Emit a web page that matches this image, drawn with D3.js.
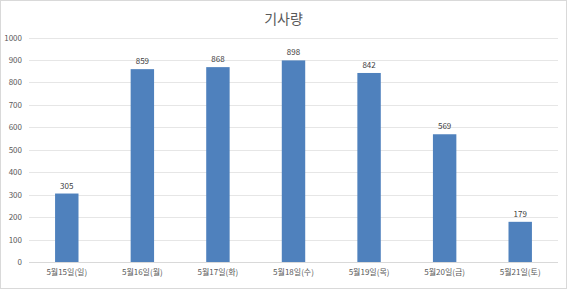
<!DOCTYPE html>
<html><head><meta charset="utf-8">
<script src="https://cdn.jsdelivr.net/npm/d3@7"></script>
<style>body{margin:0;background:#fff;}svg{display:block;font-family:"Noto Sans CJK KR","Malgun Gothic",sans-serif;}</style>
</head><body>
<script>
const categories = ["5월15일(일)","5월16일(월)","5월17일(화)","5월18일(수)","5월19일(목)","5월20일(금)","5월21일(토)"];
const values = [305, 859, 868, 898, 842, 569, 179];
const yTicks = [0,100,200,300,400,500,600,700,800,900,1000];
const title = "기사량";

const W = 567, H = 289;
const svg = d3.select("body").append("svg").attr("width", W).attr("height", H);
svg.append("rect").attr("x",0.5).attr("y",0.5).attr("width",W-1).attr("height",H-1)
  .attr("fill","#fff").attr("stroke","#d9d9d9");

const m = {left:29, right:9, top:37.5, bottom:27};
const x = d3.scaleBand().domain(categories).range([m.left, W-m.right]).paddingInner(0.69).paddingOuter(0.345);
const y = d3.scaleLinear().domain([0,1000]).range([H-m.bottom, m.top]);

svg.append("text").attr("x", W/2).attr("y", 24).attr("text-anchor","middle")
  .attr("font-size",14).attr("fill","#595959").text(title);

const g = svg.append("g");
g.selectAll("line.grid").data(yTicks).join("line")
  .attr("x1", m.left).attr("x2", W-m.right)
  .attr("y1", d=>Math.round(y(d))+0.5).attr("y2", d=>Math.round(y(d))+0.5)
  .attr("stroke", d=> d===0 ? "#d9d9d9" : "#e6e6e6").attr("stroke-width",1);

g.selectAll("text.ytick").data(yTicks).join("text")
  .attr("x", 22).attr("y", d=>y(d)+3).attr("text-anchor","end")
  .attr("font-size",8).attr("fill","#595959").text(d=>d);

g.selectAll("rect.bar").data(values).join("rect")
  .attr("x", (d,i)=>x(categories[i])).attr("width", x.bandwidth())
  .attr("y", d=>y(d)).attr("height", d=>y(0)-y(d)).attr("fill","#4F81BD");

g.selectAll("text.lbl").data(values).join("text")
  .attr("x", (d,i)=>x(categories[i])+x.bandwidth()/2).attr("y", d=>y(d)-5)
  .attr("text-anchor","middle").attr("font-size",8).attr("fill","#404040").text(d=>d);

g.selectAll("text.xtick").data(categories).join("text")
  .attr("x", d=>x(d)+x.bandwidth()/2).attr("y", H-m.bottom+13)
  .attr("text-anchor","middle").attr("font-size",8).attr("fill","#595959").text(d=>d);
</script>
</body></html>
